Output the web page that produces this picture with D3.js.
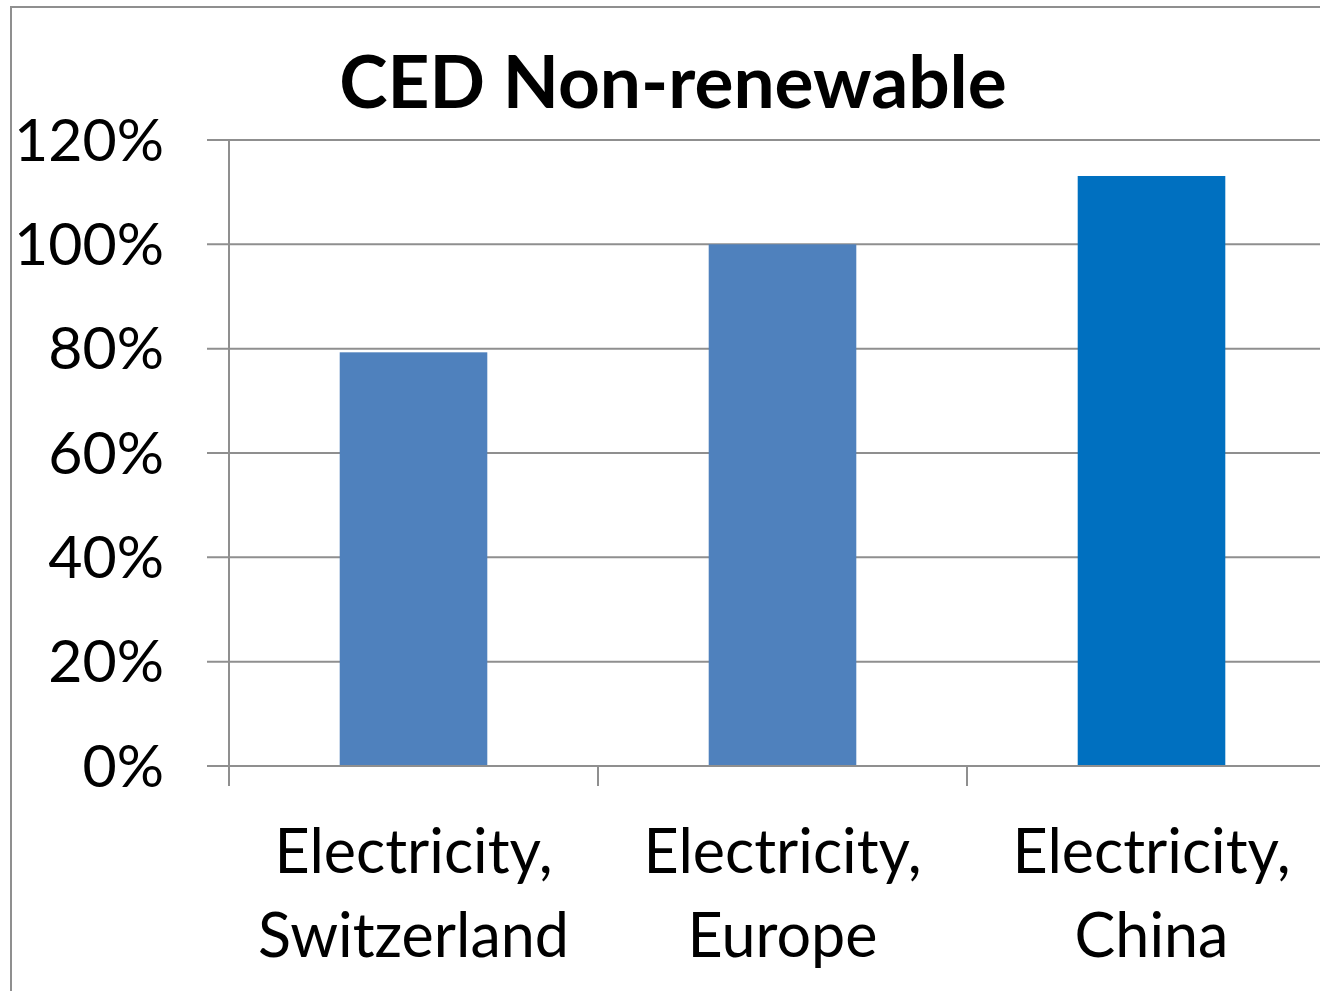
<!DOCTYPE html>
<html>
<head>
<meta charset="utf-8">
<script src="https://cdn.jsdelivr.net/npm/d3@7"></script>
<style>
  html, body { margin: 0; padding: 0; background: #fff; }
  svg { display: block; }
  text { font-family: Lato, "Open Sans", sans-serif; fill: #000; }
</style>
</head>
<body>
<svg id="chart" width="1320" height="991"></svg>
<script>
// Cumulative energy demand (non-renewable), relative to the European mix
const categories = ["Electricity, Switzerland", "Electricity, Europe", "Electricity, China"];
const labelLines = [["Electricity,", "Switzerland"], ["Electricity,", "Europe"], ["Electricity,", "China"]];
const values = [0.793, 1.00, 1.131];
const barColors = ["#4F81BD", "#4F81BD", "#0070C0"];
const yTicks = [0, 0.2, 0.4, 0.6, 0.8, 1.0, 1.2];
const yTickLabels = ["0%", "20%", "40%", "60%", "80%", "100%", "120%"];
const title = "CED Non-renewable";

const svg = d3.select("#chart");
const gridColor = "#8f8f8f";

// outer frame
svg.append("rect")
  .attr("x", 11).attr("y", 7)
  .attr("width", 1400).attr("height", 1100)
  .attr("fill", "none").attr("stroke", gridColor).attr("stroke-width", 2);

const x = d3.scaleBand()
  .domain(categories)
  .range([229, 1336])
  .paddingInner(0.6)
  .paddingOuter(0.3);

const y = d3.scaleLinear().domain([0, 1.2]).range([766, 140]);

// horizontal gridlines with outward ticks
const grid = svg.append("g");
grid.selectAll("line")
  .data(yTicks.filter(d => d > 0))
  .join("line")
  .attr("x1", 207).attr("x2", 1336)
  .attr("y1", d => y(d)).attr("y2", d => y(d))
  .attr("stroke", gridColor).attr("stroke-width", 2);

// bars
svg.append("g").selectAll("rect")
  .data(values)
  .join("rect")
  .attr("x", (d, i) => x(categories[i]))
  .attr("width", x.bandwidth())
  .attr("y", d => y(d))
  .attr("height", d => y(0) - y(d))
  .attr("fill", (d, i) => barColors[i]);

// axes
const axes = svg.append("g").attr("stroke", gridColor).attr("stroke-width", 2);
axes.append("line").attr("x1", 207).attr("x2", 1336).attr("y1", y(0)).attr("y2", y(0));
axes.append("line").attr("x1", 229).attr("x2", 229).attr("y1", y(1.2)).attr("y2", y(0) + 20);
const step = x.step();
axes.selectAll("line.xt")
  .data(categories)
  .join("line")
  .attr("class", "xt")
  .attr("x1", (d, i) => 229 + step * (i + 1))
  .attr("x2", (d, i) => 229 + step * (i + 1))
  .attr("y1", y(0)).attr("y2", y(0) + 20);

// y tick labels
svg.append("g").selectAll("text")
  .data(yTicks)
  .join("text")
  .attr("x", 164)
  .attr("y", d => y(d))
  .attr("dy", "0.35em")
  .attr("text-anchor", "end")
  .attr("font-size", 59)
  .text((d, i) => yTickLabels[i]);

// category labels
const cat = svg.append("g").selectAll("g")
  .data(categories)
  .join("g")
  .attr("transform", d => `translate(${x(d) + x.bandwidth() / 2},0)`);
cat.selectAll("text")
  .data((d, i) => labelLines[i])
  .join("text")
  .attr("y", (d, j) => 873 + j * 84)
  .attr("text-anchor", "middle")
  .attr("font-size", 61)
  .text(d => d);

// title
svg.append("text")
  .attr("x", 673).attr("y", 108)
  .attr("text-anchor", "middle")
  .attr("font-size", 73)
  .attr("font-weight", "bold")
  .text(title);
</script>
</body>
</html>
